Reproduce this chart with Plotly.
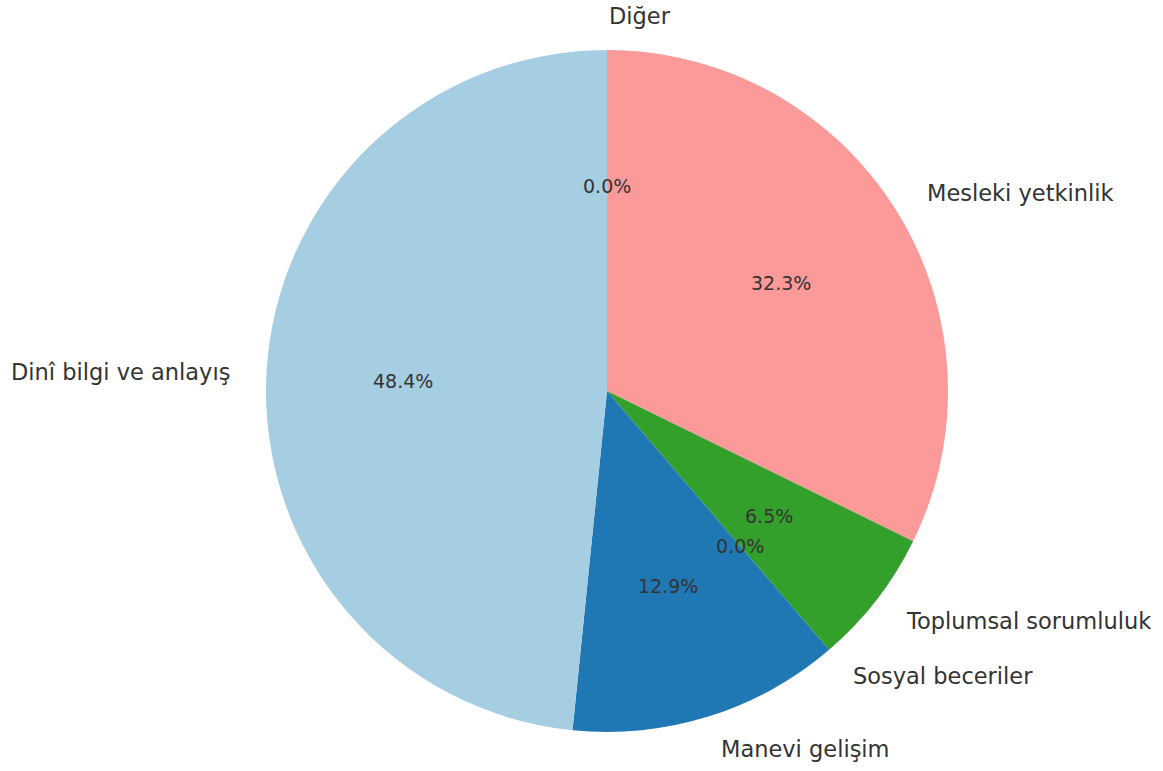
import math
import plotly.graph_objects as go

categories = ["Dinî bilgi ve anlayış", "Manevi gelişim", "Sosyal beceriler",
              "Toplumsal sorumluluk", "Mesleki yetkinlik", "Diğer"]
values = [15, 4, 0, 2, 10, 0]
colors = ["#a6cee3", "#1f78b4", "#b2df8a", "#33a02c", "#fb9a99", "#e31a1c"]

W, H = 1163, 771
cx, cy, R = 607, 391, 341  # pie centre / radius in pixels
text_color = "#333333"

fig = go.Figure()
# drawn clockwise from 12 o'clock in reversed order == counterclockwise in original order
fig.add_trace(go.Pie(
    labels=categories[::-1],
    values=values[::-1],
    marker=dict(colors=colors[::-1], line=dict(width=0)),
    sort=False,
    direction="clockwise",
    rotation=0,
    textinfo="none",
    showlegend=False,
    domain=dict(x=[(cx - R) / W, (cx + R) / W], y=[(H - cy - R) / H, (H - cy + R) / H]),
))

total = sum(values)
start = 90.0
annotations = []
for lab, v in zip(categories, values):
    span = 360.0 * v / total
    mid = math.radians(start + span / 2)
    start += span
    px = cx + 0.6 * R * math.cos(mid)
    py = cy - 0.6 * R * math.sin(mid)
    annotations.append(dict(
        x=px / W, y=1 - py / H, xref="paper", yref="paper",
        text=f"{100.0 * v / total:.1f}%", showarrow=False,
        xanchor="center", yanchor="middle",
        font=dict(family="DejaVu Sans", size=19, color=text_color)))
    lx = cx + 1.1 * R * math.cos(mid)
    ly = cy - 1.1 * R * math.sin(mid)
    annotations.append(dict(
        x=lx / W, y=1 - ly / H, xref="paper", yref="paper",
        text=lab, showarrow=False,
        xanchor="left" if math.cos(mid) > 0 else "right", yanchor="middle",
        font=dict(family="DejaVu Sans", size=22.5, color=text_color)))

fig.update_layout(
    width=W, height=H,
    margin=dict(l=0, r=0, t=0, b=0),
    paper_bgcolor="white", plot_bgcolor="white",
    annotations=annotations,
)

fig.write_html(
    "out.html",
    config={"displayModeBar": False},
    post_script="document.body.style.margin='0';document.body.style.overflow='hidden';",
)
